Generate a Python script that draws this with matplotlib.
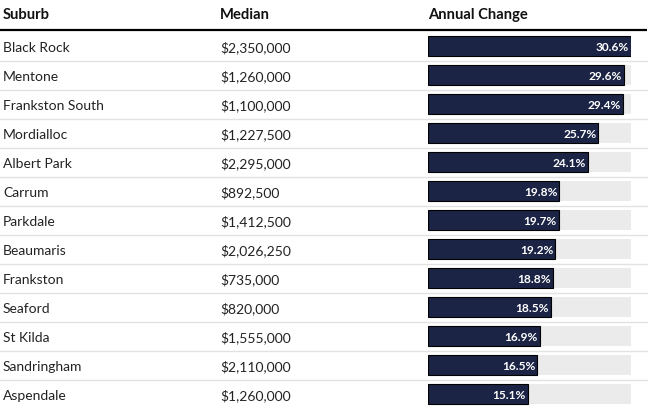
import matplotlib.pyplot as plt

# ---- data ----
suburbs = ['Black Rock', 'Mentone', 'Frankston South', 'Mordialloc', 'Albert Park',
           'Carrum', 'Parkdale', 'Beaumaris', 'Frankston', 'Seaford', 'St Kilda',
           'Sandringham', 'Aspendale']
medians = ['$2,350,000', '$1,260,000', '$1,100,000', '$1,227,500', '$2,295,000',
           '$892,500', '$1,412,500', '$2,026,250', '$735,000', '$820,000',
           '$1,555,000', '$2,110,000', '$1,260,000']
changes = [30.6, 29.6, 29.4, 25.7, 24.1, 19.8, 19.7, 19.2, 18.8, 18.5, 16.9, 16.5, 15.1]
headers = ['Suburb', 'Median', 'Annual Change']

W, H = 651, 410
FONT = 'Lato'
BAR_COLOR = '#1b2444'
TRACK_COLOR = '#ebebeb'

fig = plt.figure(figsize=(W / 100, H / 100), dpi=100)
fig.patch.set_facecolor('white')

# main "table" axes in pixel coords
ax = fig.add_axes([0, 0, 1, 1])
ax.set_xlim(0, W)
ax.set_ylim(H, 0)
ax.axis('off')

row_y = [47 + i * 29 for i in range(len(suburbs))]
col_x = [3, 220, 428]

# header
for x, h in zip(col_x, headers):
    ax.text(x, 15, h, fontsize=10.6, fontweight='bold', family=FONT,
            va='center', ha='left', color='#111111')
ax.plot([0, 647], [31, 31], color='black', lw=1.6, solid_capstyle='butt')

# rows
for i, y in enumerate(row_y):
    ax.text(col_x[0], y + 1, suburbs[i], fontsize=10, family=FONT,
            va='center', ha='left', color='#222222')
    ax.text(col_x[1], y + 1, medians[i], fontsize=10, family=FONT,
            va='center', ha='left', color='#222222')
    if i < len(suburbs) - 1:
        ax.plot([0, 647], [y + 14.5, y + 14.5], color='#e2e2e2', lw=1)

# bars
bax = fig.add_axes([428 / W, 0, (631 - 428) / W, 1])
bax.set_xlim(0, max(changes))
bax.set_ylim(H, 0)
bax.axis('off')
bax.barh(row_y, [max(changes)] * len(changes), height=20, color=TRACK_COLOR)
bax.barh(row_y, changes, height=20, color=BAR_COLOR, edgecolor='black', lw=0.8)
for y, v in zip(row_y, changes):
    bax.annotate(f'{v}%', (v, y + 0.5), xytext=(-1.5, 0), textcoords='offset points',
                 ha='right', va='center', color='white', fontsize=8.6,
                 fontweight='bold', family=FONT)

fig.savefig('out.png', dpi=100)
